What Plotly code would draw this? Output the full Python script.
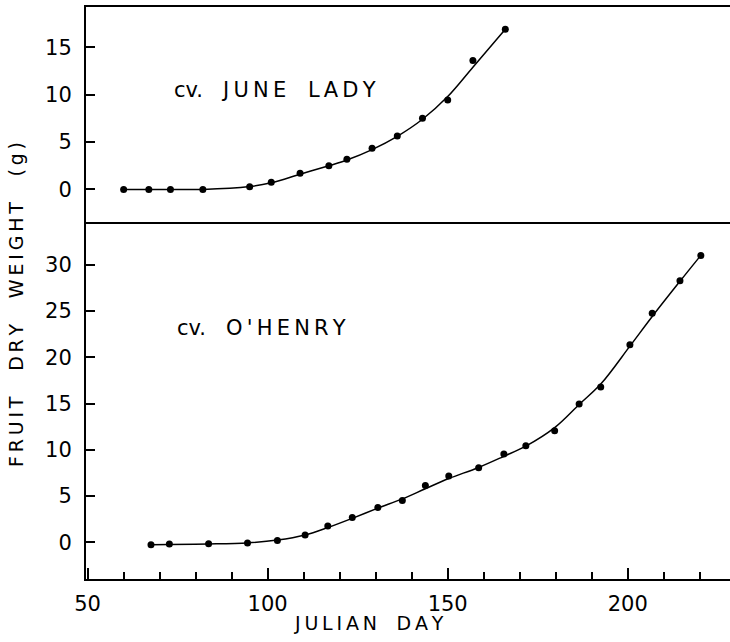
import plotly.graph_objects as go

# ---- data ----
june_day = [60, 67, 73, 82, 95, 101, 109, 117, 122, 129, 136, 143, 150, 157, 166]
june_wt = [0.0, 0.0, 0.0, 0.0, 0.27, 0.74, 1.69, 2.49, 3.17, 4.33, 5.63, 7.5, 9.43, 13.6, 16.9]
june_fit = [0.0, 0.0, 0.0, 0.0, 0.3, 0.7, 1.6, 2.5, 3.1, 4.2, 5.6, 7.4, 9.8, 12.9, 16.9]

ohenry_day = [67.6, 72.7, 83.6, 94.4, 102.7, 110.4, 116.7, 123.5, 130.6, 137.4, 143.8,
              150.3, 158.6, 165.6, 171.7, 179.7, 186.5, 192.5, 200.6, 206.8, 214.5, 220.3]
ohenry_wt = [-0.25, -0.17, -0.14, -0.06, 0.22, 0.80, 1.77, 2.70, 3.78, 4.54, 6.16,
             7.17, 8.07, 9.55, 10.45, 12.07, 14.95, 16.79, 21.36, 24.74, 28.27, 31.0]
ohenry_fit = [-0.25, -0.22, -0.17, -0.05, 0.25, 0.8, 1.6, 2.6, 3.7, 4.7, 5.8,
              6.9, 8.1, 9.3, 10.4, 12.4, 14.9, 17.1, 21.2, 24.4, 28.2, 31.0]

x_ticks = [50, 100, 150, 200]
y_ticks_top = [0, 5, 10, 15]
y_ticks_bottom = [0, 5, 10, 15, 20, 25, 30]

FONT = "DejaVu Sans"
TH = "\u2009"
NB = "\u00a0"


def spaced(s, gap=TH, word=NB + NB):
    out = []
    for w in s.split(" "):
        out.append(gap.join(list(w)))
    return (gap + word + gap).join(out)


fig = go.Figure()

# lower panel: O'Henry
fig.add_trace(go.Scatter(x=ohenry_day, y=ohenry_fit, mode="lines", line=dict(color="black", width=1.5, shape="spline"),
                         xaxis="x", yaxis="y", hoverinfo="skip"))
fig.add_trace(go.Scatter(x=ohenry_day, y=ohenry_wt, mode="markers", marker=dict(color="black", size=7),
                         xaxis="x", yaxis="y"))
# upper panel: June Lady
fig.add_trace(go.Scatter(x=june_day, y=june_fit, mode="lines", line=dict(color="black", width=1.5, shape="spline"),
                         xaxis="x2", yaxis="y2", hoverinfo="skip"))
fig.add_trace(go.Scatter(x=june_day, y=june_wt, mode="markers", marker=dict(color="black", size=7),
                         xaxis="x2", yaxis="y2"))

tickfont = dict(family=FONT, size=21, color="black")
xr = [49.55, 228.4]

fig.update_layout(
    width=730, height=642,
    margin=dict(l=86, r=0, t=7, b=63),
    paper_bgcolor="white", plot_bgcolor="white",
    showlegend=False,
    xaxis=dict(domain=[0, 1], range=xr, anchor="y", tickvals=x_ticks, ticks="inside", ticklen=11,
               tickwidth=2, tickcolor="black", showline=True, linewidth=2, linecolor="black",
               showgrid=False, zeroline=False, tickfont=tickfont, ticklabelstandoff=5,
               minor=dict(dtick=10, tick0=50, ticks="inside", ticklen=7, tickwidth=2, tickcolor="black", showgrid=False)),
    yaxis=dict(domain=[0, 0.624], range=[-3.95, 34.6], anchor="x", tickvals=y_ticks_bottom, ticks="inside",
               ticklen=9, tickwidth=2, tickcolor="black", showline=True, linewidth=2, linecolor="black",
               showgrid=False, zeroline=False, tickfont=tickfont, ticklabelstandoff=8),
    xaxis2=dict(domain=[0, 1], range=xr, anchor="y2", matches="x", showticklabels=False, ticks="",
                showline=True, mirror=True, linewidth=2, linecolor="black", showgrid=False, zeroline=False),
    yaxis2=dict(domain=[0.624, 1], range=[-3.45, 19.25], anchor="x2", tickvals=y_ticks_top, ticks="inside",
                ticklen=9, tickwidth=2, tickcolor="black", showline=True, linewidth=2, linecolor="black",
                showgrid=False, zeroline=False, tickfont=tickfont, ticklabelstandoff=8),
)

ann_font = dict(family=FONT, size=21, color="black")
fig.add_annotation(text="cv." + NB + NB + NB + spaced("JUNE LADY"), x=73.4, y=10.5, xref="x2", yref="y2",
                   xanchor="left", yanchor="middle", showarrow=False, font=ann_font)
fig.add_annotation(text="cv." + NB + NB + NB + spaced("O'HENRY"), x=74.3, y=23.2, xref="x", yref="y",
                   xanchor="left", yanchor="middle", showarrow=False, font=ann_font)
fig.add_annotation(text=spaced("JULIAN DAY"), x=(369 - 86) / 644, y=-(623 - 579) / 572, xref="paper", yref="paper",
                   xanchor="center", yanchor="middle", showarrow=False, font=dict(family=FONT, size=19, color="black"))
fig.add_annotation(text=spaced("FRUIT DRY WEIGHT (g)", word=NB + NB + NB), x=(16 - 86) / 644, y=(579 - 305) / 572,
                   xref="paper", yref="paper", xanchor="center", yanchor="middle", textangle=-90, showarrow=False,
                   font=dict(family=FONT, size=19, color="black"))

fig.write_html("out.html")
